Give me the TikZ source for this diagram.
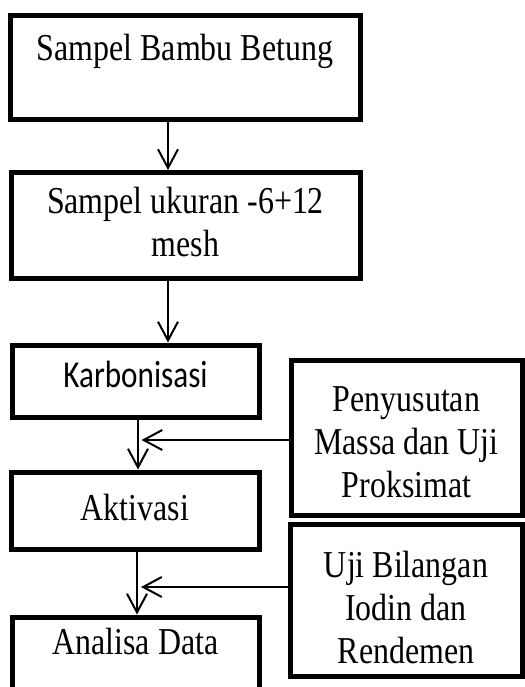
\documentclass[tikz,border=0pt]{standalone}
\usepackage{fontspec}
\setmainfont{Liberation Serif}[FakeStretch=0.84]
\newfontfamily\calibrifont{Carlito}[FakeStretch=0.82]
\usetikzlibrary{arrows.meta}

\begin{document}
\begin{tikzpicture}[x=0.75pt, y=-0.75pt,
    box/.style={draw, line width=3.75pt, inner sep=0pt, align=center,
        font=\fontsize{28.5}{32}\selectfont, text height=20.25pt},
    arr/.style={-{Straight Barb[length=14pt,width=15pt]}, line width=1.5pt}]
    \useasboundingbox (0,0) rectangle (525,687);

    % Main flow boxes
    \node[box, minimum width=262.5pt, minimum height=78pt, text depth=30.75pt] (sampel) at (185,67) {Sampel Bambu Betung};
    \node[box, minimum width=261.75pt, minimum height=79.125pt, text height=52.5pt, text depth=6pt] (ukuran) at (185.5,225.25) {Sampel ukuran -6+12\\mesh};
    \node[box, minimum width=185.25pt, minimum height=54pt, text depth=11.25pt] (karbon) at (135.5,381) {\calibrifont Karbonisasi};
    \node[box, minimum width=186pt, minimum height=57.75pt, text depth=6pt] (aktivasi) at (135,510.5) {Aktivasi};
    \node[box, minimum width=185.25pt, minimum height=77.25pt, text depth=42pt] (analisa) at (135.5,668.5) {Analisa Data};

    % Side boxes
    \node[box, minimum width=173.25pt, minimum height=116.25pt, text height=95.25pt, text depth=6pt] (susut) at (406.5,437.5) {Penyusutan\\Massa dan Uji\\Proksimat};
    \node[box, minimum width=174pt, minimum height=114pt, text height=100.5pt, text depth=6pt] (iodin) at (406,600) {Uji Bilangan\\Iodin dan\\Rendemen};

    % Arrows down
    \draw[arr] ([xshift=-12.75pt]sampel.south) -- ([xshift=-13.125pt]ukuran.north);
    \draw[arr] ([xshift=-13.125pt]ukuran.south) -- ([xshift=24.375pt]karbon.north);
    \draw[arr] ([xshift=1.875pt]karbon.south) -- ([xshift=2.25pt]aktivasi.north);
    \draw[arr] ([xshift=1.5pt]aktivasi.south) -- ([xshift=1.125pt]analisa.north);

    % Arrows from the side boxes
    \draw[arr] ([yshift=-1.875pt]susut.west) -- ([yshift=-1.875pt, xshift=4.5pt]susut.west -| karbon.south);
    \draw[arr] ([yshift=9.75pt]iodin.west) -- ([yshift=9.75pt, xshift=4.5pt]iodin.west -| aktivasi.south);
\end{tikzpicture}
\end{document}
